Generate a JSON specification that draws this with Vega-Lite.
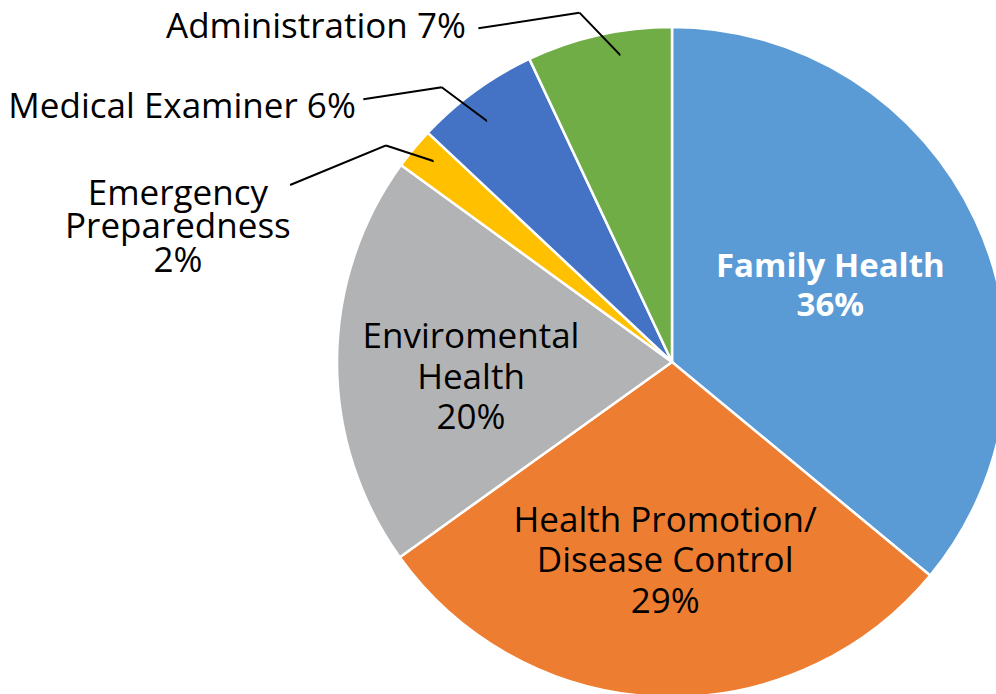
{
  "$schema": "https://vega.github.io/schema/vega-lite/v6.json",
  "width": 648,
  "height": 664,
  "autosize": {"type": "none"},
  "padding": {"left": 348, "top": 30, "right": 0, "bottom": 0},
  "background": "white",
  "config": {"view": {"stroke": null}, "text": {"font": "Open Sans"}},
  "data": {
    "values": [
      {"category": "Family Health", "value": 36.0, "rank": 1, "label": ["Family Health", "36%"]},
      {"category": "Health Promotion/Disease Control", "value": 29.1, "rank": 2, "label": ["Health Promotion/", "Disease Control", "29%"]},
      {"category": "Enviromental Health", "value": 19.9, "rank": 3, "label": ["Enviromental", "Health", "20%"]},
      {"category": "Emergency Preparedness", "value": 2.0, "rank": 4, "label": ["Emergency", "Preparedness", "2%"]},
      {"category": "Medical Examiner", "value": 6.0, "rank": 5, "label": "Medical Examiner 6%"},
      {"category": "Administration", "value": 7.0, "rank": 6, "label": "Administration 7%"}
    ]
  },
  "layer": [
    {
      "mark": {"type": "arc", "radius": 335, "stroke": "white", "strokeWidth": 2.5},
      "encoding": {
        "theta": {"field": "value", "type": "quantitative", "stack": true},
        "order": {"field": "rank", "type": "quantitative"},
        "color": {
          "field": "category",
          "type": "nominal",
          "legend": null,
          "scale": {
            "domain": ["Family Health", "Health Promotion/Disease Control", "Enviromental Health", "Emergency Preparedness", "Medical Examiner", "Administration"],
            "range": ["#5B9BD5", "#ED7D31", "#B2B3B5", "#FFC000", "#4472C4", "#70AD47"]
          }
        }
      }
    },
    {
      "mark": {"type": "text", "radius": 175, "dy": -20, "fontSize": 33, "fontWeight": "bold", "fill": "white", "lineHeight": 39, "align": "center", "baseline": "middle"},
      "encoding": {
        "theta": {"field": "value", "type": "quantitative", "stack": true},
        "order": {"field": "rank", "type": "quantitative"},
        "text": {"condition": {"test": "datum.category == 'Family Health'", "field": "label"}, "value": ""}
      }
    },
    {
      "mark": {"type": "text", "radius": 198, "dy": -39, "fontSize": 35, "fill": "black", "lineHeight": 40.5, "align": "center", "baseline": "middle"},
      "encoding": {
        "theta": {"field": "value", "type": "quantitative", "stack": true},
        "order": {"field": "rank", "type": "quantitative"},
        "text": {"condition": {"test": "datum.category == 'Health Promotion/Disease Control'", "field": "label"}, "value": ""}
      }
    },
    {
      "mark": {"type": "text", "radius": 201, "dy": -24, "fontSize": 35, "fill": "black", "lineHeight": 40.4, "align": "center", "baseline": "middle"},
      "encoding": {
        "theta": {"field": "value", "type": "quantitative", "stack": true},
        "order": {"field": "rank", "type": "quantitative"},
        "text": {"condition": {"test": "datum.category == 'Enviromental Health'", "field": "label"}, "value": ""}
      }
    },
    {
      "mark": {"type": "text", "radius": 335, "dx": -236, "dy": 45.5, "fontSize": 35, "fill": "black", "lineHeight": 33.5, "align": "center", "baseline": "middle"},
      "encoding": {
        "theta": {"field": "value", "type": "quantitative", "stack": true},
        "order": {"field": "rank", "type": "quantitative"},
        "text": {"condition": {"test": "datum.category == 'Emergency Preparedness'", "field": "label"}, "value": ""}
      }
    },
    {
      "mark": {"type": "text", "radius": 335, "dx": -293, "dy": 16, "fontSize": 35, "fill": "black", "align": "center", "baseline": "middle"},
      "encoding": {
        "theta": {"field": "value", "type": "quantitative", "stack": true},
        "order": {"field": "rank", "type": "quantitative"},
        "text": {"condition": {"test": "datum.category == 'Medical Examiner'", "field": "label"}, "value": ""}
      }
    },
    {
      "mark": {"type": "text", "radius": 335, "dx": -283, "dy": -8, "fontSize": 35, "fill": "black", "align": "center", "baseline": "middle"},
      "encoding": {
        "theta": {"field": "value", "type": "quantitative", "stack": true},
        "order": {"field": "rank", "type": "quantitative"},
        "text": {"condition": {"test": "datum.category == 'Administration'", "field": "label"}, "value": ""}
      }
    },
    {
      "transform": [
        {"stack": "value", "groupby": [], "sort": [{"field": "rank", "order": "ascending"}], "as": ["v0", "v1"]},
        {"filter": "datum.category == 'Administration'"}
      ],
      "mark": {"type": "arc", "radius": 361.392, "radius2": 311.372, "padAngle": 0.752993, "thetaOffset": 1.140136, "theta2Offset": -0.32594, "fillOpacity": 0, "stroke": "black", "strokeWidth": 2, "strokeDash": [0, 163.58, 58.7, 100000]},
      "encoding": {"theta": {"field": "v0", "type": "quantitative", "stack": null}, "theta2": {"field": "v0"}}
    },
    {
      "transform": [
        {"stack": "value", "groupby": [], "sort": [{"field": "rank", "order": "ascending"}], "as": ["v0", "v1"]},
        {"filter": "datum.category == 'Administration'"}
      ],
      "mark": {"type": "arc", "radius": 385.843, "radius2": 361.391, "padAngle": 1.494852, "thetaOffset": 1.78756, "theta2Offset": -1.284218, "fillOpacity": 0, "stroke": "black", "strokeWidth": 2, "strokeDash": [0, 260.66, 102.2, 100000]},
      "encoding": {"theta": {"field": "v0", "type": "quantitative", "stack": null}, "theta2": {"field": "v0"}}
    },
    {
      "transform": [
        {"stack": "value", "groupby": [], "sort": [{"field": "rank", "order": "ascending"}], "as": ["v0", "v1"]},
        {"filter": "datum.category == 'Medical Examiner'"}
      ],
      "mark": {"type": "arc", "radius": 358.464, "radius2": 304.238, "padAngle": 0.356322, "thetaOffset": 0.669939, "theta2Offset": -0.115459, "fillOpacity": 0, "stroke": "black", "strokeWidth": 2, "strokeDash": [0, 113.35, 56.04, 100000]},
      "encoding": {"theta": {"field": "v0", "type": "quantitative", "stack": null}, "theta2": {"field": "v0"}}
    },
    {
      "transform": [
        {"stack": "value", "groupby": [], "sort": [{"field": "rank", "order": "ascending"}], "as": ["v0", "v1"]},
        {"filter": "datum.category == 'Medical Examiner'"}
      ],
      "mark": {"type": "arc", "radius": 405.349, "radius2": 358.466, "padAngle": 1.203788, "thetaOffset": 1.363062, "theta2Offset": -0.905866, "fillOpacity": 0, "stroke": "black", "strokeWidth": 2, "strokeDash": [0, 224.98, 79.31, 100000]},
      "encoding": {"theta": {"field": "v0", "type": "quantitative", "stack": null}, "theta2": {"field": "v0"}}
    },
    {
      "transform": [
        {"stack": "value", "groupby": [], "sort": [{"field": "rank", "order": "ascending"}], "as": ["v0", "v1"]},
        {"filter": "datum.category == 'Emergency Preparedness'"}
      ],
      "mark": {"type": "arc", "radius": 358.702, "radius2": 312.055, "padAngle": 0.495864, "thetaOffset": 0.648277, "theta2Offset": -0.311655, "fillOpacity": 0, "stroke": "black", "strokeWidth": 2, "strokeDash": [0, 106.66, 49.77, 100000]},
      "encoding": {"theta": {"field": "v0", "type": "quantitative", "stack": null}, "theta2": {"field": "v0"}}
    },
    {
      "transform": [
        {"stack": "value", "groupby": [], "sort": [{"field": "rank", "order": "ascending"}], "as": ["v0", "v1"]},
        {"filter": "datum.category == 'Emergency Preparedness'"}
      ],
      "mark": {"type": "arc", "radius": 421.013, "radius2": 358.702, "padAngle": 1.185733, "thetaOffset": 1.285171, "theta2Offset": -1.018663, "fillOpacity": 0, "stroke": "black", "strokeWidth": 2, "strokeDash": [0, 275.91, 103.81, 100000]},
      "encoding": {"theta": {"field": "v0", "type": "quantitative", "stack": null}, "theta2": {"field": "v0"}}
    }
  ]
}
